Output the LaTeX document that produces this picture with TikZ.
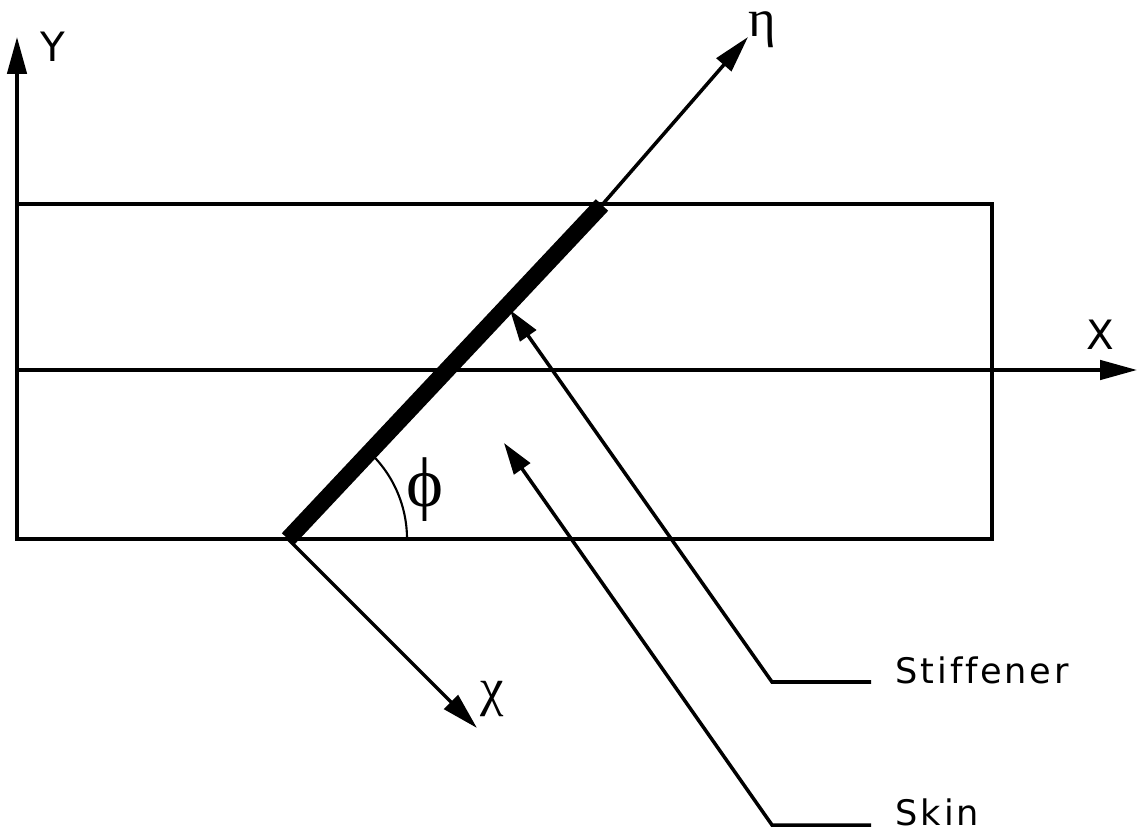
\documentclass[tikz,border=0pt]{standalone}
\usepackage{fontspec}
\setmainfont{DejaVu Sans}
\newfontfamily\plotfont[LetterSpace=8, Ligatures=NoCommon]{DejaVu Sans}
\newfontfamily\greekfont{Liberation Serif}
\usetikzlibrary{arrows.meta}

\begin{document}
\begin{tikzpicture}[>=Triangle, x=0.01cm, y=0.01cm]

  \tikzset{
    frame/.style = {draw, line width=1.3pt, line join=miter},
    axis/.style = {
      -{Triangle[length=10.5pt, width=5.5pt]}, line width=1pt
    },
    stiffbar/.style = {line width=4.8pt, line cap=butt},
    anglearc/.style = {line width=0.6pt},
    leader/.style = {
      -{Triangle[length=9pt, width=5.5pt]}, line width=1pt, line join=miter
    },
    axlbl/.style = {font=\plotfont\fontsize{11.5}{13}\selectfont, inner sep=0pt},
    greeklbl/.style = {font=\greekfont\fontsize{15}{17}\selectfont, inner sep=0pt},
    calllbl/.style = {font=\plotfont\fontsize{10}{12}\selectfont, anchor=west, inner sep=0pt}
  }

  \useasboundingbox (0,0) rectangle (1143,833);

  % --- Plate -------------------------------------------------------------
  \coordinate (sw) at (17,294);
  \coordinate (ne) at (992,629);
  \draw [frame] (sw) rectangle (ne);

  % --- Global axes X, Y ----------------------------------------------------
  \coordinate (ytip)  at (17,796);
  \coordinate (xfoot) at (17,463);
  \coordinate (xtip)  at (1137,463);
  \draw [axis] (sw) -- (ytip);
  \draw [axis] (xfoot) -- (xtip);
  \node (ylbl) [axlbl] at (53,786) {Y};
  \node (xlbl) [axlbl] at (1100,498) {X};

  % --- Stiffener and local axes -------------------------------------------
  \coordinate (o)      at (288,294);
  \coordinate (stop)   at (602,628);
  \coordinate (etatip) at (748,796);
  \coordinate (chitip) at (477,105);
  \draw [stiffbar] (o) -- (stop);
  \draw [axis] (stop) -- (etatip);
  \draw [axis] (o) -- (chitip);
  \node (etalbl) [greeklbl] at (762,803) {η};
  \node (chilbl) [greeklbl] at (492,134) {χ};

  % angle between stiffener and plate edge
  \draw [anglearc] (o) ++(0:119) arc [start angle=0, end angle=47, radius=119];
  \node (philbl) [greeklbl, font=\greekfont\fontsize{20}{22}\selectfont] at (425,343) {ϕ};

  % --- Call-outs --------------------------------------------------------------
  \node (stifflbl) [calllbl] at (895,163) {Stiffener};
  \node (skinlbl)  [calllbl] at (895,21)  {Skin};

  \coordinate (stiffend)   at (871,151);
  \coordinate (stiffelbow) at (772,151);
  \coordinate (stifftip)   at (510,523);
  \coordinate (skinend)    at (871,8);
  \coordinate (skinelbow)  at (772,8);
  \coordinate (skintip)    at (504,390);
  \draw [leader] (stiffend) -- (stiffelbow) -- (stifftip);
  \draw [leader] (skinend) -- (skinelbow) -- (skintip);

\end{tikzpicture}
\end{document}
